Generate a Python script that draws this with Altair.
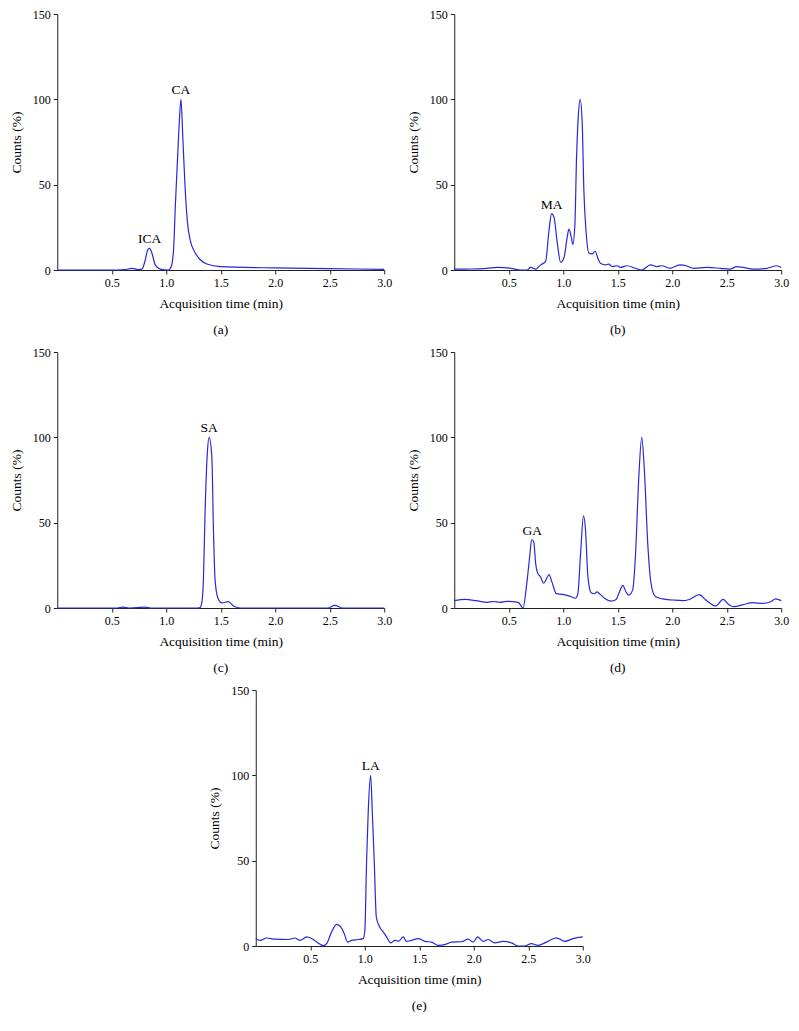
import altair as alt
import pandas as pd

# ---------------- data ----------------
a_time = [0.0, 0.30, 0.55, 0.62, 0.685, 0.74, 0.777, 0.807, 0.829, 0.847, 0.868, 0.899, 0.945,
          1.021, 1.046, 1.067, 1.083, 1.104, 1.119, 1.135, 1.153, 1.174, 1.196, 1.220, 1.266,
          1.312, 1.373, 1.495, 2.0, 2.5, 3.0]
a_counts = [0, 0, 0, 0.2, 1.0, 0.3, 0.5, 5.8, 11.7, 12.7, 10, 3, 0.5,
            0, 2, 11.7, 37, 66, 86, 100, 76, 47, 27, 17.5, 10,
            6, 3.5, 2, 1.2, 0.8, 0.4]

b_time = [0.0, 0.06, 0.15, 0.30, 0.40, 0.52, 0.61, 0.67, 0.70, 0.747, 0.793, 0.838, 0.869, 0.893,
          0.915, 0.945, 0.976, 1.006, 1.037, 1.052, 1.073, 1.088, 1.107, 1.122, 1.137, 1.155,
          1.174, 1.189, 1.210, 1.235, 1.265, 1.293, 1.317, 1.341, 1.387, 1.418, 1.448, 1.494,
          1.524, 1.585, 1.662, 1.72, 1.80, 1.86, 1.905, 1.98, 2.07, 2.13, 2.195, 2.32, 2.44,
          2.53, 2.59, 2.65, 2.74, 2.87, 2.96, 3.0]
b_counts = [0.5, 0.5, 0.6, 1.0, 1.5, 1.0, 0, 0, 1.5, 0.5, 3, 5, 23, 33,
            31, 16, 4.5, 7, 19.5, 24, 19.5, 15, 27, 66, 89, 100,
            86, 47, 22, 10, 9.5, 11, 7, 4, 3, 3.5, 2, 2.5,
            1.5, 2.5, 1, 0, 3, 2, 2.5, 1, 3, 2.5, 1, 1.5, 1,
            0.5, 2, 1.5, 0.5, 1, 2.5, 1.5]

c_time = [0.0, 0.55, 0.60, 0.66, 0.80, 0.86, 1.29, 1.311, 1.326, 1.341, 1.356, 1.378, 1.393,
          1.418, 1.433, 1.448, 1.473, 1.51, 1.57, 1.62, 1.68, 2.48, 2.546, 2.62, 3.0]
c_counts = [0, 0, 0.5, 0, 0.5, 0, 0, 0.3, 3, 16.5, 55.6, 92, 100,
            89, 46, 16.5, 6, 3, 3.7, 1, 0, 0, 1.5, 0, 0]

d_time = [0.0, 0.1, 0.2, 0.3, 0.36, 0.42, 0.48, 0.586, 0.631, 0.662, 0.692, 0.71, 0.729, 0.747,
          0.768, 0.79, 0.82, 0.845, 0.869, 0.896, 0.936, 0.997, 1.058, 1.113, 1.134, 1.159,
          1.186, 1.204, 1.226, 1.256, 1.287, 1.308, 1.332, 1.378, 1.439, 1.485, 1.515, 1.546,
          1.576, 1.601, 1.637, 1.662, 1.692, 1.72, 1.744, 1.775, 1.805, 1.845, 1.912, 2.003,
          2.095, 2.156, 2.247, 2.308, 2.4, 2.467, 2.522, 2.567, 2.643, 2.735, 2.826, 2.903,
          2.948, 3.0]
d_counts = [4.3, 5, 4.3, 3.3, 3.8, 3.3, 3.9, 3.3, 0, 12.5, 30, 40, 39, 26,
            20, 18.4, 14.5, 17, 19.6, 15.3, 8.4, 8, 7, 5.7, 8.4, 32,
            54, 46, 18.4, 9, 8.4, 9.4, 8.4, 5.7, 4, 5, 9.4, 13.3,
            9.4, 7.6, 10.6, 30, 75, 100, 81, 38, 14.5, 6.7, 5.3, 4.7,
            4.3, 5, 7.8, 4.7, 1.2, 5, 1.8, 0.8, 1.8, 3.1, 2.7, 3.7,
            5.3, 4.3]

e_time = [0.0, 0.04, 0.10, 0.177, 0.299, 0.36, 0.406, 0.467, 0.528, 0.559, 0.62, 0.65, 0.696,
          0.742, 0.782, 0.812, 0.843, 0.879, 0.941, 0.986, 1.001, 1.017, 1.032, 1.054, 1.069,
          1.087, 1.106, 1.13, 1.17, 1.2, 1.24, 1.277, 1.313, 1.353, 1.383, 1.429, 1.49, 1.552,
          1.613, 1.674, 1.735, 1.796, 1.888, 1.949, 1.995, 2.035, 2.086, 2.132, 2.193, 2.27,
          2.346, 2.407, 2.468, 2.529, 2.59, 2.667, 2.758, 2.835, 2.911, 3.0]
e_counts = [4.3, 3.3, 4.7, 4.0, 3.8, 4.7, 3.3, 5.3, 3.8, 2.3, 0.2, 1.4, 8.2,
            12.7, 11, 7.2, 2.3, 3.3, 3.8, 4.3, 9.2, 50, 79, 100, 79,
            50, 17, 12, 8.2, 5.3, 1.8, 3.3, 2.9, 5.3, 2.7, 3.3, 4.3, 2.7,
            2.3, 0.4, 0.8, 2.3, 2.5, 4.0, 2.3, 5.3, 2.7, 3.8, 1.8, 2.7,
            1.8, 0, 0, 1.4, 0.4, 2.3, 4.8, 2.7, 4.3, 5.3]

x_ticks = [0.5, 1.0, 1.5, 2.0, 2.5, 3.0]
y_ticks = [0, 50, 100, 150]

FONT = "Liberation Serif"
LINE = "#2828d8"


def panel(t, v, labels, caption):
    df = pd.DataFrame({"t": t, "v": v})
    x = alt.X("t:Q",
              scale=alt.Scale(domain=[0, 3], nice=False, zero=False),
              axis=alt.Axis(values=x_ticks, format=".1f", labelFlush=False,
                            title="Acquisition time (min)"))
    y = alt.Y("v:Q",
              scale=alt.Scale(domain=[0, 150], nice=False),
              axis=alt.Axis(values=y_ticks, title="Counts (%)"))
    line = alt.Chart(df).mark_line(color=LINE, strokeWidth=1.2,
                                   interpolate="monotone").encode(x=x, y=y)
    ldf = pd.DataFrame({"t": [l[1] for l in labels],
                        "v": [l[2] + 3 for l in labels],
                        "name": [l[0] for l in labels]})
    text = alt.Chart(ldf).mark_text(font=FONT, fontSize=13.5, baseline="alphabetic",
                                    color="black").encode(x="t:Q", y="v:Q", text="name:N")
    return alt.layer(line, text).properties(
        width=327, height=256,
        title=alt.TitleParams(caption, orient="bottom", font=FONT, fontSize=13.5,
                              fontWeight="normal", color="black", offset=13))


pa = panel(a_time, a_counts, [("CA", 1.135, 100), ("ICA", 0.847, 12.7)], "(a)")
pb = panel(b_time, b_counts, [("MA", 0.893, 33)], "(b)")
pc = panel(c_time, c_counts, [("SA", 1.393, 100)], "(c)")
pd_ = panel(d_time, d_counts, [("GA", 0.716, 40)], "(d)")
pe = panel(e_time, e_counts, [("LA", 1.054, 100)], "(e)")

row1 = alt.hconcat(pa, pb, spacing=14)
row2 = alt.hconcat(pc, pd_, spacing=14)

chart = alt.vconcat(row1, row2, pe, spacing=10, center=True).properties(
    padding={"left": 1, "top": 0, "right": 0, "bottom": 0}
).configure_view(stroke=None).configure_axis(
    grid=False,
    labelFont=FONT, titleFont=FONT,
    labelFontSize=12, titleFontSize=13.5, titleFontWeight="normal",
    labelColor="black", titleColor="black",
    domainColor="#222222", tickColor="#222222",
    tickSize=4, labelPadding=3,
).configure_axisX(titlePadding=8).configure_axisY(titlePadding=9)

chart.save("out.html", embed_options={"renderer": "svg", "actions": False})
